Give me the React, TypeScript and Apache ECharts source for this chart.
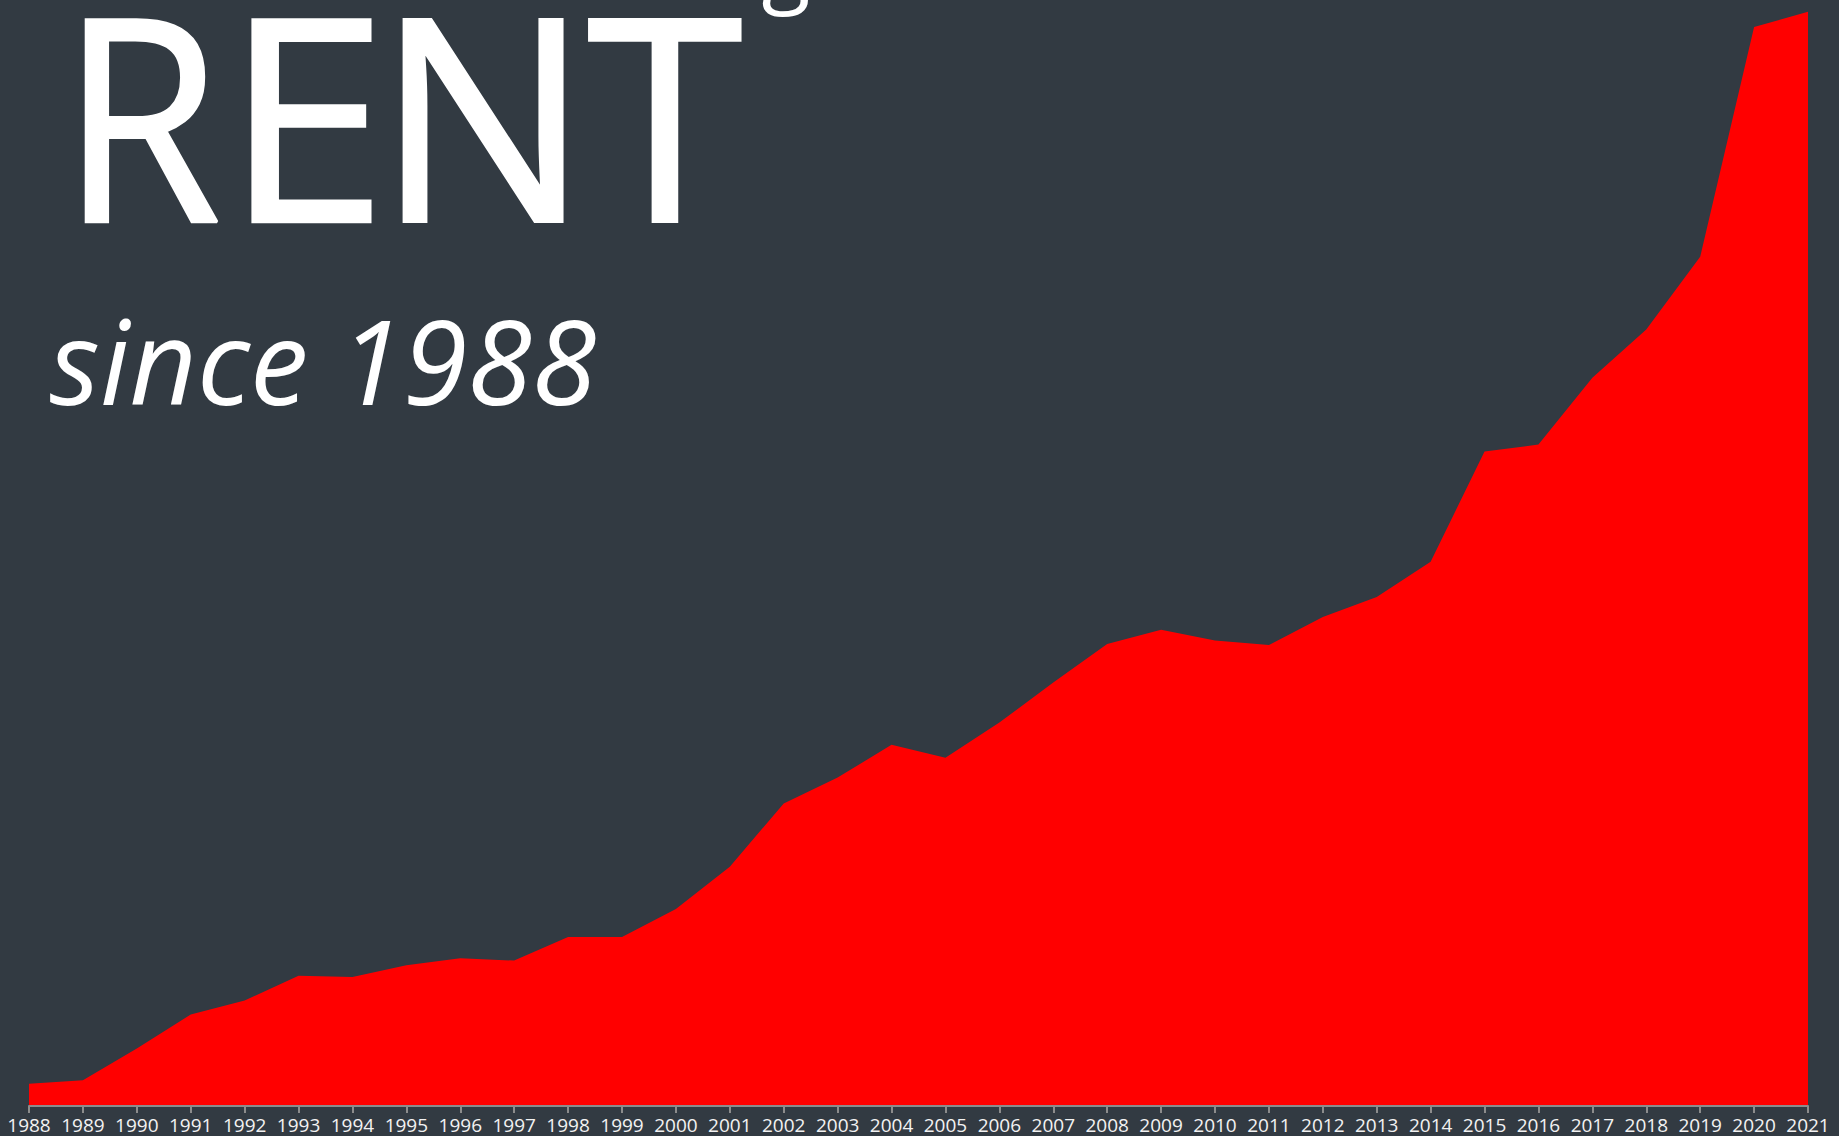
import React, { useEffect, useRef } from "react";
import * as echarts from "echarts";

const years = [
  "1988", "1989", "1990", "1991", "1992", "1993", "1994", "1995", "1996", "1997",
  "1998", "1999", "2000", "2001", "2002", "2003", "2004", "2005", "2006", "2007",
  "2008", "2009", "2010", "2011", "2012", "2013", "2014", "2015", "2016", "2017",
  "2018", "2019", "2020", "2021",
];

const rentIndex = [
  19, 22, 49, 78, 90, 111, 110, 120, 126, 124,
  144, 144, 168, 204, 258, 280, 308, 297, 327, 361,
  394, 406, 397, 393, 417, 434, 464, 558, 564, 621,
  662, 724, 920, 933,
];

const titleLetters = ["R", "E", "N", "T"];
const subtitle = "since 1988";

const BG = "#323a42";

export default function App() {
  const ref = useRef<HTMLDivElement>(null);

  useEffect(() => {
    if (!ref.current) return;
    const chart = echarts.init(ref.current, null, { renderer: "svg" });
    const letterCenters = [141, 306, 483, 665];
    const letterScale = [0.92, 1.04, 1.0, 1.0];
    const option: any = {
      animation: false,
      backgroundColor: BG,
      grid: { left: 29, right: 31, top: 0, bottom: 30, containLabel: false },
      xAxis: {
        type: "category",
        data: years,
        boundaryGap: false,
        axisLine: { show: true, lineStyle: { color: "#8c8c8c", width: 2 } },
        axisTick: { show: true, length: 7, lineStyle: { color: "#8c8c8c", width: 2 } },
        axisLabel: {
          interval: 0,
          color: "#f2f2f2",
          fontFamily: "Open Sans",
          fontSize: 19,
          margin: 9,
        },
        splitLine: { show: false },
        z: 5,
      },
      yAxis: {
        type: "value",
        min: 0,
        max: 943,
        show: false,
        splitLine: { show: false },
      },
      series: [
        {
          type: "line",
          data: rentIndex,
          symbol: "none",
          lineStyle: { width: 0, color: "#ff0000" },
          areaStyle: { color: "#ff0000", opacity: 1 },
          itemStyle: { color: "#ff0000" },
          z: 2,
        },
      ],
      graphic: [
        ...titleLetters.map((ch, i) => ({
          type: "text",
          x: letterCenters[i],
          y: 112,
          scaleX: letterScale[i],
          z: 10,
          style: {
            text: ch,
            fill: "#ffffff",
            stroke: "#ffffff",
            lineWidth: 3,
            fontFamily: "Open Sans",
            fontSize: 283,
            lineHeight: 200,
            align: "center",
            verticalAlign: "middle",
          },
        })),
        {
          type: "text",
          x: 786,
          y: -40,
          z: 10,
          style: {
            text: "g",
            fill: "#ffffff",
            fontFamily: "Open Sans",
            fontSize: 90,
            align: "center",
            verticalAlign: "middle",
          },
        },
        {
          type: "text",
          x: 323,
          y: 359,
          z: 10,
          style: {
            text: subtitle,
            fill: "#ffffff",
            fontFamily: "Open Sans",
            fontStyle: "italic",
            fontSize: 117,
            lineHeight: 120,
            align: "center",
            verticalAlign: "middle",
          },
        },
      ],
    };
    chart.setOption(option);
    return () => chart.dispose();
  }, []);

  return <div ref={ref} style={{ width: 1839, height: 1136, position: "absolute", left: 0, top: 0 }} />;
}
